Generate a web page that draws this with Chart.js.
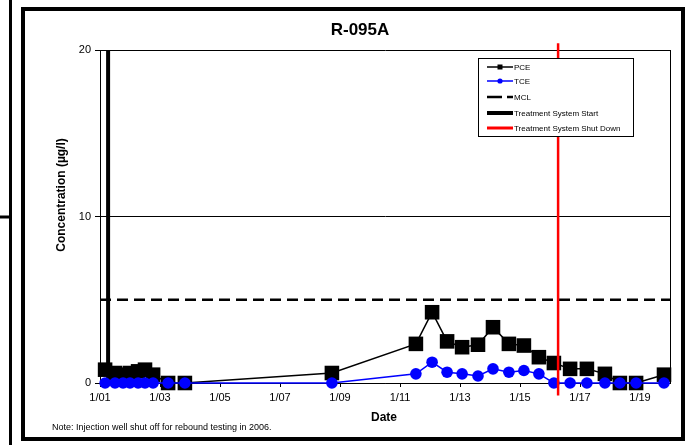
<!DOCTYPE html>
<html>
<head>
<meta charset="utf-8">
<script src="https://cdn.jsdelivr.net/npm/chart.js@4"></script>
<style>
    html, body { margin: 0; padding: 0; background: #fff; }
    #wrap { position: relative; width: 696px; height: 445px; }
</style>
</head>
<body>
<div id="wrap"><canvas id="chart" width="696" height="445"></canvas></div>
<script>
// ============================================
// DATA (dates as decimal years)
// ============================================
const sampleDates = [
    2001.17, 2001.5, 2001.77, 2002.0, 2002.27, 2002.5, 2002.77, 2003.27, 2003.83,
    2008.73, 2011.53, 2012.07, 2012.57, 2013.07, 2013.6, 2014.1, 2014.63, 2015.13, 2015.63, 2016.13,
    2016.67, 2017.23, 2017.83, 2018.33, 2018.87, 2019.8
];
const pceValues = [
    0.8, 0.6, 0.5, 0.6, 0.7, 0.8, 0.5, 0, 0,
    0.6, 2.35, 4.25, 2.5, 2.15, 2.3, 3.35, 2.35, 2.25, 1.55, 1.2,
    0.85, 0.85, 0.55, 0, 0, 0.5
];
const tceValues = [
    0, 0, 0, 0, 0, 0, 0, 0, 0,
    0, 0.55, 1.25, 0.65, 0.55, 0.42, 0.85, 0.65, 0.75, 0.55, 0,
    0, 0, 0, 0, 0, 0
];
const mclValue = 5;
const startDate = 2001.27;
const shutDownDate = 2016.27;

const xTickValues = [2001, 2003, 2005, 2007, 2009, 2011, 2013, 2015, 2017, 2019];
const xTickLabels = ['1/01', '1/03', '1/05', '1/07', '1/09', '1/11', '1/13', '1/15', '1/17', '1/19'];
const yTickValues = [0, 10, 20];

const FONT = 'Arial, "Liberation Sans", sans-serif';

// ============================================
// DECORATION PLUGIN (title, axis titles, legend, frame)
// ============================================
const decorPlugin = {
    id: 'decor',
    afterDraw(chart) {
        const ctx = chart.ctx;
        const area = chart.chartArea;
        ctx.save();

        // plot area right border
        ctx.strokeStyle = '#000';
        ctx.lineWidth = 1;
        ctx.beginPath();
        ctx.moveTo(Math.round(area.right) + 0.5, area.top);
        ctx.lineTo(Math.round(area.right) + 0.5, area.bottom);
        ctx.stroke();

        ctx.fillStyle = '#000';
        ctx.textAlign = 'center';
        ctx.textBaseline = 'middle';

        // title
        ctx.font = 'bold 17px ' + FONT;
        ctx.fillText('R-095A', 360, 30);

        // x title
        ctx.font = 'bold 12px ' + FONT;
        ctx.fillText('Date', 384, 418);

        // y title
        ctx.save();
        ctx.translate(62, 195);
        ctx.rotate(-Math.PI / 2);
        ctx.fillText('Concentration (\u00b5g/l)', 0, 0);
        ctx.restore();

        // note
        ctx.textAlign = 'left';
        ctx.font = '9px ' + FONT;
        ctx.fillText('Note: Injection well shut off for rebound testing in 2006.', 52, 428);

        // legend
        const lx = 478.5, ly = 58.5, lw = 155, lh = 78;
        ctx.fillStyle = '#fff';
        ctx.fillRect(lx, ly, lw, lh);
        ctx.strokeStyle = '#000';
        ctx.lineWidth = 1;
        ctx.strokeRect(lx, ly, lw, lh);

        const items = [
            { label: 'PCE', color: '#000', width: 1.5, marker: 'rect', y: 67 },
            { label: 'TCE', color: '#0000ff', width: 1.5, marker: 'circle', y: 81 },
            { label: 'MCL', color: '#000', width: 2.5, dash: [15, 5], y: 97 },
            { label: 'Treatment System Start', color: '#000', width: 4, y: 113 },
            { label: 'Treatment System Shut Down', color: '#ff0000', width: 3, y: 128 }
        ];
        ctx.font = '8px ' + FONT;
        ctx.textBaseline = 'middle';
        items.forEach(it => {
            ctx.strokeStyle = it.color;
            ctx.lineWidth = it.width;
            ctx.setLineDash(it.dash || []);
            ctx.beginPath();
            ctx.moveTo(487, it.y);
            ctx.lineTo(513, it.y);
            ctx.stroke();
            ctx.setLineDash([]);
            ctx.fillStyle = it.color;
            if (it.marker === 'rect') {
                ctx.fillRect(497.5, it.y - 2.5, 5, 5);
            } else if (it.marker === 'circle') {
                ctx.beginPath();
                ctx.arc(500, it.y, 2.6, 0, Math.PI * 2);
                ctx.fill();
            }
            ctx.fillStyle = '#000';
            ctx.fillText(it.label, 514, it.y + 0.5);
        });

        // outer frame
        ctx.strokeStyle = '#000';
        ctx.lineWidth = 4;
        ctx.strokeRect(23, 9, 660, 430);

        // left page marks
        ctx.lineWidth = 3;
        ctx.beginPath();
        ctx.moveTo(10.5, 0);
        ctx.lineTo(10.5, 445);
        ctx.moveTo(0, 217);
        ctx.lineTo(10, 217);
        ctx.stroke();

        ctx.restore();
    }
};

// ============================================
// BUILD CHART
// ============================================
const pcePoints = sampleDates.map((d, i) => ({ x: d, y: pceValues[i] }));
const tcePoints = sampleDates.map((d, i) => ({ x: d, y: tceValues[i] }));

new Chart(document.getElementById('chart'), {
    type: 'line',
    data: {
        datasets: [
            {
                label: 'Treatment System Shut Down',
                data: [{ x: shutDownDate, y: -0.75 }, { x: shutDownDate, y: 20.4 }],
                borderColor: '#ff0000',
                borderWidth: 2.5,
                pointRadius: 0,
                clip: false,
                order: 0
            },
            {
                label: 'TCE',
                data: tcePoints,
                borderColor: '#0000ff',
                backgroundColor: '#0000ff',
                borderWidth: 1.5,
                pointStyle: 'circle',
                pointRadius: 5.8,
                pointBorderWidth: 0,
                clip: false,
                order: 1
            },
            {
                label: 'PCE',
                data: pcePoints,
                borderColor: '#000',
                backgroundColor: '#000',
                borderWidth: 1.5,
                pointStyle: 'rect',
                pointRadius: 10.3,
                pointBorderWidth: 0,
                clip: false,
                order: 2
            },
            {
                label: 'Treatment System Start',
                data: [{ x: startDate, y: 0 }, { x: startDate, y: 20 }],
                borderColor: '#000',
                borderWidth: 4,
                pointRadius: 0,
                order: 3
            },
            {
                label: 'MCL',
                data: [{ x: 2001, y: mclValue }, { x: 2020, y: mclValue }],
                borderColor: '#000',
                borderWidth: 2.5,
                borderDash: [11, 6],
                pointRadius: 0,
                order: 4
            }
        ]
    },
    options: {
        responsive: false,
        animation: false,
        events: [],
        layout: { padding: { left: 0, right: 26, top: 50, bottom: 0 } },
        plugins: {
            legend: { display: false },
            title: { display: false },
            tooltip: { enabled: false }
        },
        scales: {
            x: {
                type: 'linear',
                min: 2001,
                max: 2020,
                afterBuildTicks: (s) => { s.ticks = xTickValues.map(v => ({ value: v })); },
                afterFit: (s) => { s.height = 62; },
                ticks: {
                    autoSkip: false,
                    maxRotation: 0,
                    color: '#000',
                    padding: 4,
                    font: { family: FONT, size: 11 },
                    callback: (v, i) => xTickLabels[i]
                },
                grid: { drawOnChartArea: false, drawTicks: true, tickLength: 4, color: '#000' },
                border: { color: '#000', width: 1 }
            },
            y: {
                min: 0,
                max: 20,
                afterBuildTicks: (s) => { s.ticks = yTickValues.map(v => ({ value: v })); },
                afterFit: (s) => { s.width = 100; },
                ticks: {
                    color: '#000',
                    padding: 4,
                    font: { family: FONT, size: 11 }
                },
                grid: { color: '#000', lineWidth: 1, tickLength: 5 },
                border: { color: '#000', width: 1 }
            }
        }
    },
    plugins: [decorPlugin]
});
</script>
</body>
</html>
